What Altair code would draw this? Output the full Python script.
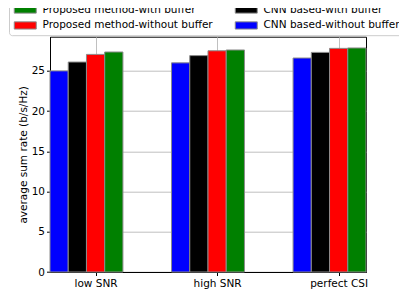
import altair as alt
import pandas as pd

categories = ["low SNR", "high SNR", "perfect CSI"]
series = ["CNN based-without buffer", "CNN based-with buffer",
          "Proposed method-without buffer", "Proposed method-with buffer"]
colors = ["#0000ff", "#000000", "#ff0000", "#008000"]
cnn_without = [25.0, 26.0, 26.6]
cnn_with = [26.1, 26.9, 27.3]
prop_without = [27.05, 27.5, 27.8]
prop_with = [27.35, 27.6, 27.85]
values = [cnn_without, cnn_with, prop_without, prop_with]
y_ticks = [0, 5, 10, 15, 20, 25]

rows = []
for j, s in enumerate(series):
    for i, c in enumerate(categories):
        rows.append({"category": c, "cat_idx": i, "series": s,
                     "ser_idx": j, "rate": values[j][i]})
df = pd.DataFrame(rows)

legend_order = [series[3], series[2], series[1], series[0]]
legend_colors = [colors[3], colors[2], colors[1], colors[0]]
label_expr = "[" + ",".join("'" + c + "'" for c in categories) + "][datum.value]"

FONT = "DejaVu Sans"

bars = alt.Chart(df).transform_calculate(
    x0="datum.cat_idx + (datum.ser_idx - 2) * 0.15 - 0.075",
    x1="datum.cat_idx + (datum.ser_idx - 2) * 0.15 + 0.075",
).mark_bar(stroke="#8c8c8c", strokeWidth=1).encode(
    x=alt.X("x0:Q",
            scale=alt.Scale(domain=[-0.375, 2.225], nice=False, zero=False),
            axis=alt.Axis(values=[0, 1, 2], labelExpr=label_expr, title=None,
                          grid=True, labelPadding=3)),
    x2="x1:Q",
    y=alt.Y("rate:Q", scale=alt.Scale(domain=[0, 29.25], nice=False),
            axis=alt.Axis(values=y_ticks, title="average sum rate (b/s/Hz)",
                          grid=True, titlePadding=2.5, labelPadding=2)),
    y2=alt.datum(0),
    color=alt.Color("series:N",
                    scale=alt.Scale(domain=legend_order, range=legend_colors),
                    legend=alt.Legend(
                        title=None, orient="none", legendX=-41, legendY=-36.5,
                        columns=2, symbolType="M-1,-0.9H4.5V0.9H-1Z",
                        symbolSize=64, symbolStrokeColor="#8c8c8c",
                        symbolStrokeWidth=1, symbolOpacity=1,
                        labelFont=FONT, labelFontSize=10.5, labelColor="black",
                        labelOffset=19, columnPadding=20, rowPadding=4,
                        padding=4, strokeColor="#cccccc", fillColor="white",
                        cornerRadius=3, labelLimit=300)),
).properties(width=316, height=235.3)

chart = bars.properties(
    autosize=alt.AutoSizeParams(type="none"),
    padding={"left": 42, "top": 28.7, "right": 33, "bottom": 26},
).configure_view(stroke="black", strokeWidth=1).configure_axis(
    labelFont=FONT, labelFontSize=10.5, labelColor="black",
    titleFont=FONT, titleFontSize=10.5, titleFontWeight="normal", titleColor="black",
    tickColor="black", tickSize=3.5, domainColor="black", domainWidth=1,
    gridColor="#b0b0b0", gridWidth=0.8, zindex=1,
)

chart.save("out.html", embed_options={"renderer": "svg", "actions": False})
